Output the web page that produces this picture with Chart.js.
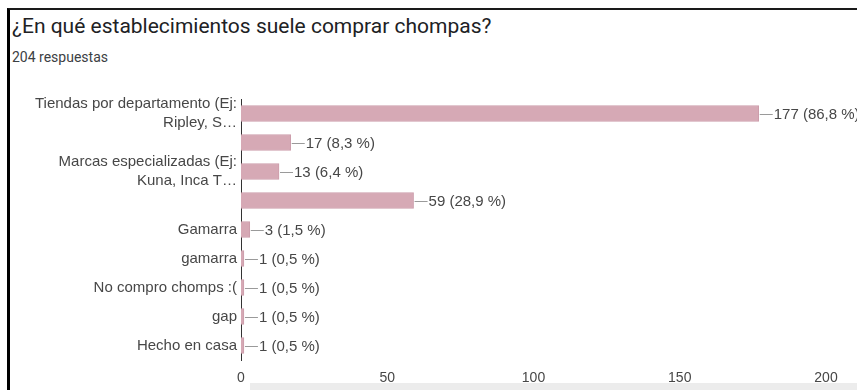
<!DOCTYPE html>
<html>
<head>
<meta charset="utf-8">
<script src="https://cdn.jsdelivr.net/npm/chart.js@4"></script>
<style>
  html, body { margin: 0; padding: 0; background: #fff; }
  body { width: 857px; height: 390px; position: relative; overflow: hidden; }
  #frame {
    position: absolute; left: 7px; top: 8px; width: 850px; height: 382px;
    border-left: 3px solid #000; border-top: 2px solid #1a1a1a;
  }
  #title {
    position: absolute; left: 12px; top: 14px;
    font: 21px Roboto, Arial, sans-serif; color: #202124; white-space: nowrap;
  }
  #sub {
    position: absolute; left: 12px; top: 49px;
    font: 14px Roboto, Arial, sans-serif; color: #3c4043;
  }
  #strip { position: absolute; left: 250px; top: 383px; width: 607px; height: 7px; background: #ececec; }
  #wrap { position: absolute; left: 0; top: 0; width: 857px; height: 390px; }
</style>
</head>
<body>
<div id="frame"></div>
<div id="title">¿En qué establecimientos suele comprar chompas?</div>
<div id="sub">204 respuestas</div>
<div id="strip"></div>
<div id="wrap"><canvas id="bar"></canvas></div>
<script>
const total = 204;
const categories = [
    ['Tiendas por departamento (Ej:', 'Ripley, S…'],
    '',
    ['Marcas especializadas (Ej:', 'Kuna, Inca T…'],
    '',
    'Gamarra',
    'gamarra',
    'No compro chomps :(',
    'gap',
    'Hecho en casa'
];
const counts = [177, 17, 13, 59, 3, 1, 1, 1, 1];
const xTicks = [0, 50, 100, 150, 200];

const fontFamily = '"Liberation Sans", Arial, sans-serif';
const labelFont = '15px ' + fontFamily;

// "—177 (86,8 %)" next to each bar
const valueLabels = {
    id: 'valueLabels',
    afterDatasetsDraw(chart) {
        const ctx = chart.ctx;
        const meta = chart.getDatasetMeta(0);
        ctx.save();
        meta.data.forEach((bar, i) => {
            const v = counts[i];
            const pct = (v / total * 100).toFixed(1).replace('.', ',');
            const x = bar.x + 1;
            const y = Math.round(bar.y) + 0.5;
            ctx.strokeStyle = '#9a9a9a';
            ctx.lineWidth = 1;
            ctx.beginPath();
            ctx.moveTo(x, y);
            ctx.lineTo(x + 13, y);
            ctx.stroke();
            ctx.fillStyle = '#474747';
            ctx.font = labelFont;
            ctx.textBaseline = 'middle';
            ctx.textAlign = 'left';
            ctx.fillText(v + ' (' + pct + ' %)', x + 14, bar.y + 1);
        });
        ctx.restore();
    }
};

const myBar = new Chart(document.getElementById('bar').getContext('2d'), {
    type: 'bar',
    data: {
        labels: categories,
        datasets: [{
            data: counts,
            backgroundColor: '#d6a9b5',
            borderColor: '#cc9dab',
            borderWidth: 1,
            barThickness: 16
        }]
    },
    options: {
        indexAxis: 'y',
        responsive: true,
        maintainAspectRatio: false,
        animation: false,
        layout: { padding: { top: 99, right: 31, left: 0, bottom: 0 } },
        scales: {
            x: {
                min: 0,
                max: 200,
                afterBuildTicks: (scale) => { scale.ticks = xTicks.map(v => ({ value: v })); },
                afterFit: (scale) => { scale.height = 30; },
                grid: { display: false, drawTicks: false },
                border: { display: false },
                ticks: {
                    color: '#474747',
                    font: { family: fontFamily, size: 14 },
                    padding: 10
                }
            },
            y: {
                afterFit: (scale) => { scale.width = 241; },
                grid: { display: false, drawTicks: false },
                border: { display: true, color: '#333', width: 1 },
                ticks: {
                    color: '#474747',
                    font: { family: fontFamily, size: 15, lineHeight: 1.25 },
                    padding: 4,
                    autoSkip: false
                }
            }
        },
        plugins: {
            legend: { display: false },
            tooltip: { enabled: false }
        }
    },
    plugins: [valueLabels]
});
</script>
</body>
</html>
